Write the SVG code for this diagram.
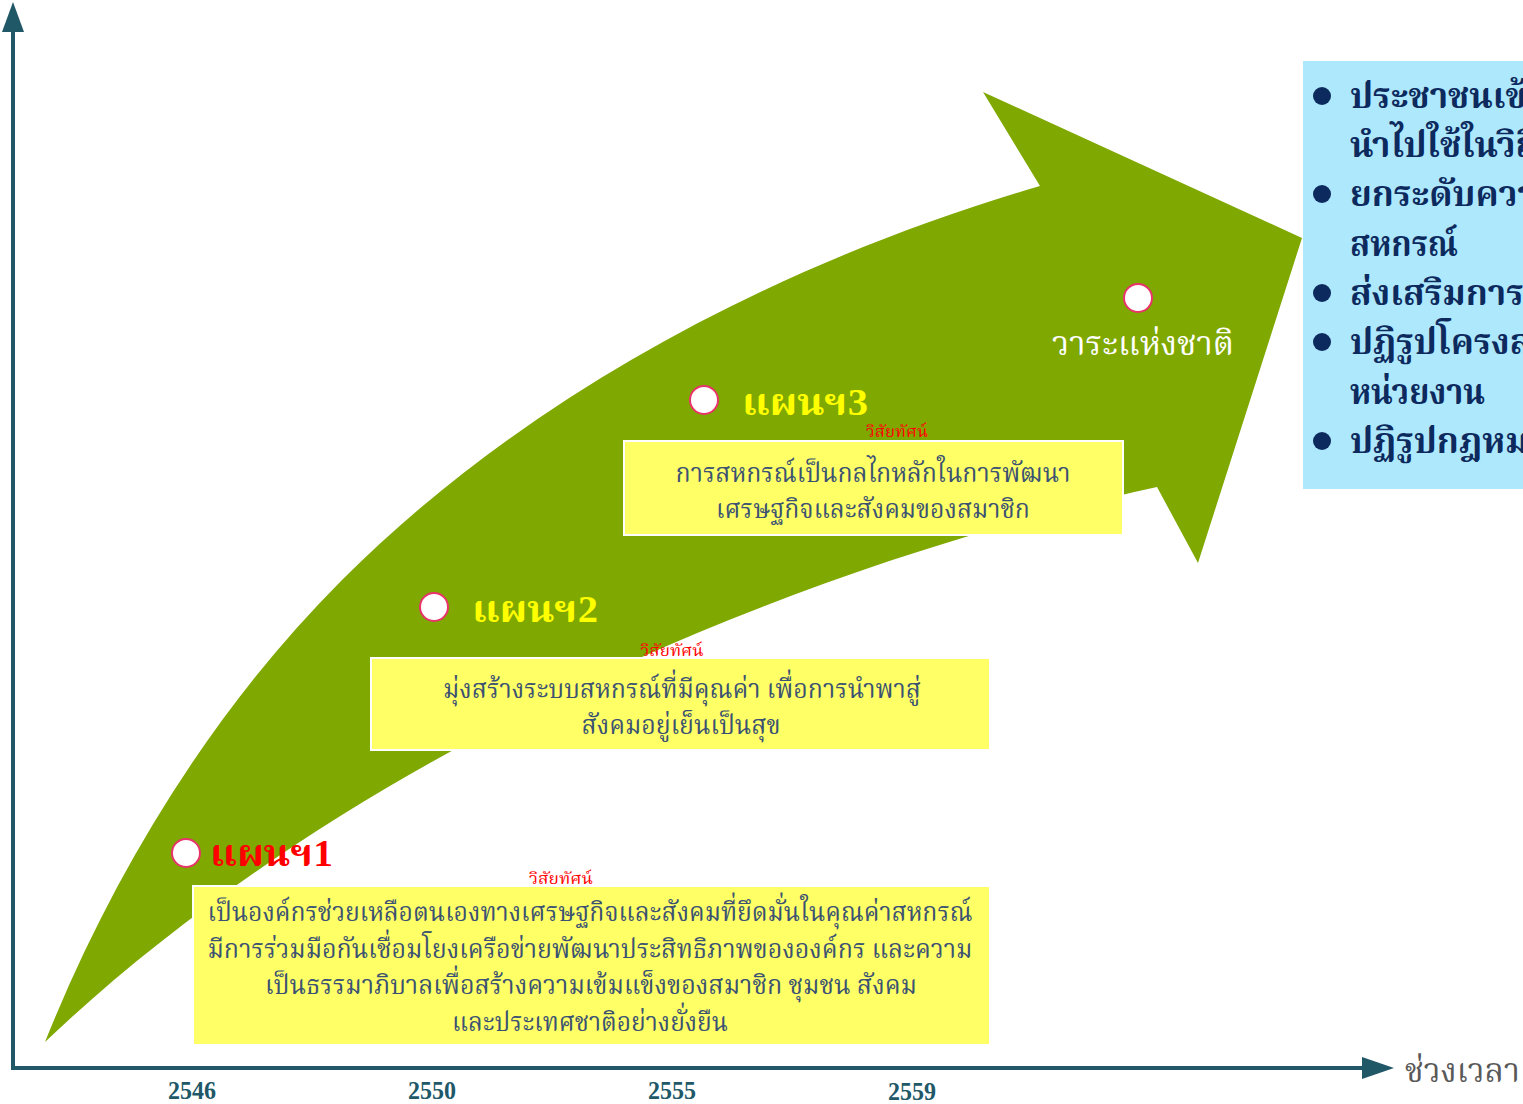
<svg xmlns="http://www.w3.org/2000/svg" width="1523" height="1104" viewBox="0 0 1523 1104">
  <defs>
    <style>
      .th { font-family: "Liberation Serif", "Noto Serif Thai", "Noto Sans Thai", "Noto Sans", serif; }
      .box { fill: #ffff66; stroke: #ffffff; stroke-width: 2; }
      .boxtxt { font-size: 27px; fill: #3b5272; text-anchor: middle; }
      .vis { font-size: 16px; fill: #ff0000; text-anchor: middle; }
      .dot { fill: #ffffff; stroke: #e8336b; stroke-width: 2; }
      .plan { font-size: 38px; font-weight: bold; }
      .yr { font-family: "Liberation Serif", serif; font-weight: bold; font-size: 26px; fill: #215868; text-anchor: middle; }
      .blt { font-size: 35px; font-weight: bold; fill: #0d2a5e; }
      .axis { stroke: #215868; stroke-width: 4; fill: none; }
    </style>
  </defs>

  <g id="arrow-band">
    <path d="M45,1042 C113,872 213,709 342,580 C531,391 784,261 1040,186 L983,92 L1302,238 L1198,563 L1157,487 C767,573 335,766 45,1042 Z" fill="#7fa800"/>
  </g>

  <g id="connectors">
    <line class="axis" x1="13" y1="1068" x2="13" y2="28"/>
    <path d="M13,2 L24,32 L2,32 Z" fill="#215868"/>
    <line class="axis" x1="11" y1="1068" x2="1366" y2="1068"/>
    <path d="M1394,1068 L1362,1057 L1362,1079 Z" fill="#215868"/>
  </g>

  <g id="axis-labels">
    <text class="yr" x="192" y="1099" textLength="48" lengthAdjust="spacingAndGlyphs">2546</text>
    <text class="yr" x="432" y="1099" textLength="48" lengthAdjust="spacingAndGlyphs">2550</text>
    <text class="yr" x="672" y="1099" textLength="48" lengthAdjust="spacingAndGlyphs">2555</text>
    <text class="yr" x="912" y="1100" textLength="48" lengthAdjust="spacingAndGlyphs">2559</text>
    <text class="th" x="1405" y="1082" font-size="34" fill="#595959" textLength="115" lengthAdjust="spacingAndGlyphs">ช่วงเวลา</text>
  </g>

  <g id="goals">
    <rect x="1303" y="61" width="230" height="428" fill="#aee8fc"/>
    <g class="th blt">
      <circle cx="1322" cy="96" r="9" fill="#0d2a5e"/>
      <text x="1350" y="108">ประชาชนเข้าถึง</text>
      <text x="1350" y="157">นำไปใช้ในวิถีชีวิต</text>
      <circle cx="1322" cy="194" r="9" fill="#0d2a5e"/>
      <text x="1350" y="206">ยกระดับความเข้มแข็ง</text>
      <text x="1350" y="256" textLength="108" lengthAdjust="spacingAndGlyphs">สหกรณ์</text>
      <circle cx="1322" cy="293" r="9" fill="#0d2a5e"/>
      <text x="1350" y="305">ส่งเสริมการเรียนรู้</text>
      <circle cx="1322" cy="342" r="9" fill="#0d2a5e"/>
      <text x="1350" y="354">ปฏิรูปโครงสร้าง</text>
      <text x="1350" y="404" textLength="135" lengthAdjust="spacingAndGlyphs">หน่วยงาน</text>
      <circle cx="1322" cy="441" r="9" fill="#0d2a5e"/>
      <text x="1350" y="453">ปฏิรูปกฎหมาย</text>
    </g>
  </g>

  <g id="national-agenda">
    <circle class="dot" cx="1138" cy="298" r="14"/>
    <text class="th" x="1052" y="355" font-size="34" fill="#ffffff" textLength="182" lengthAdjust="spacingAndGlyphs">วาระแห่งชาติ</text>
  </g>

  <g id="plan3">
    <circle class="dot" cx="704" cy="400" r="14"/>
    <text class="th plan" x="742" y="415" fill="#ffff00" textLength="126" lengthAdjust="spacingAndGlyphs">แผนฯ3</text>
    <text class="th vis" x="897" y="437" textLength="62" lengthAdjust="spacingAndGlyphs">วิสัยทัศน์</text>
    <rect class="box" x="624" y="441" width="499" height="94"/>
    <text class="th boxtxt" x="873" y="482" textLength="395" lengthAdjust="spacingAndGlyphs">การสหกรณ์เป็นกลไกหลักในการพัฒนา</text>
    <text class="th boxtxt" x="873" y="518" textLength="314" lengthAdjust="spacingAndGlyphs">เศรษฐกิจและสังคมของสมาชิก</text>
  </g>

  <g id="plan2">
    <circle class="dot" cx="434" cy="607" r="14"/>
    <text class="th plan" x="472" y="622" fill="#ffff00" textLength="126" lengthAdjust="spacingAndGlyphs">แผนฯ2</text>
    <text class="th vis" x="672" y="656" textLength="63" lengthAdjust="spacingAndGlyphs">วิสัยทัศน์</text>
    <rect class="box" x="371" y="658" width="619" height="92"/>
    <text class="th boxtxt" x="682" y="698" textLength="478" lengthAdjust="spacingAndGlyphs">มุ่งสร้างระบบสหกรณ์ที่มีคุณค่า เพื่อการนำพาสู่</text>
    <text class="th boxtxt" x="681" y="734" textLength="199" lengthAdjust="spacingAndGlyphs">สังคมอยู่เย็นเป็นสุข</text>
  </g>

  <g id="plan1">
    <circle class="dot" cx="186" cy="853" r="14"/>
    <text class="th plan" x="210" y="866" fill="#ff0000" textLength="123" lengthAdjust="spacingAndGlyphs">แผนฯ1</text>
    <text class="th vis" x="561" y="884" textLength="64" lengthAdjust="spacingAndGlyphs">วิสัยทัศน์</text>
    <rect class="box" x="193" y="886" width="797" height="159"/>
    <text class="th boxtxt" x="590" y="921" textLength="765" lengthAdjust="spacingAndGlyphs">เป็นองค์กรช่วยเหลือตนเองทางเศรษฐกิจและสังคมที่ยึดมั่นในคุณค่าสหกรณ์</text>
    <text class="th boxtxt" x="590" y="958" textLength="765" lengthAdjust="spacingAndGlyphs">มีการร่วมมือกันเชื่อมโยงเครือข่ายพัฒนาประสิทธิภาพขององค์กร และความ</text>
    <text class="th boxtxt" x="591" y="994" textLength="652" lengthAdjust="spacingAndGlyphs">เป็นธรรมาภิบาลเพื่อสร้างความเข้มแข็งของสมาชิก ชุมชน สังคม</text>
    <text class="th boxtxt" x="590" y="1031" textLength="276" lengthAdjust="spacingAndGlyphs">และประเทศชาติอย่างยั่งยืน</text>
  </g>
</svg>
